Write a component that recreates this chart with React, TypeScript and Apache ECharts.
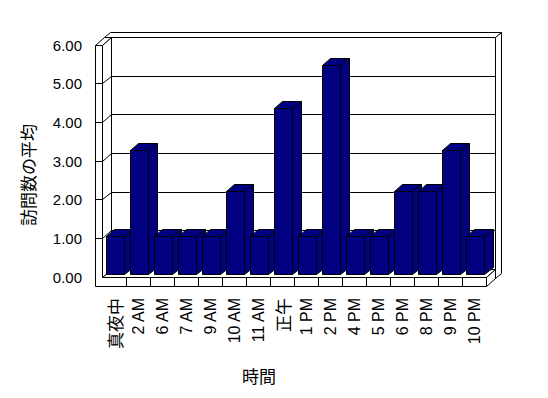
import React, { useEffect, useRef } from "react";
import * as echarts from "echarts";

const categories = ["真夜中", "2 AM", "6 AM", "7 AM", "9 AM", "10 AM", "11 AM", "正午", "1 PM", "2 PM", "4 PM", "5 PM", "6 PM", "8 PM", "9 PM", "10 PM"];
const visits = [1, 3.22, 1, 1, 1, 2.14, 1, 4.29, 1, 5.4, 1, 1, 2.14, 2.14, 3.22, 1];
const yTicks = [0, 1, 2, 3, 4, 5, 6];
const yAxisTitle = "訪問数の平均";
const xAxisTitle = "時間";

const GRID = { left: 102, top: 45, width: 384, height: 232 };
const DEPTH = [9.5, -7.5];
const OUTER = [15.5, -12.5];
const WALL = 7;
const FLOOR = 9;
const BAR_OFF = [1.5, -2.3];
const BAR_DEPTH = [8.5, -7];
const BAR_W = 0.79;
const NAVY = "#000080";
const LATIN = "'Liberation Sans', Arial, sans-serif";
const CJK = "'Noto Sans CJK JP', sans-serif";

const sn = (v: number) => Math.floor(v) + 0.5;
const pts = (arr: number[][]) => arr.map(([x, y]) => [sn(x), sn(y)]);
const face = (arr: number[][], fill: string) => ({
  type: "polygon",
  shape: { points: pts(arr) },
  style: { fill, stroke: "#000", lineWidth: 1 },
});

export default function App() {
  const ref = useRef<HTMLDivElement>(null);
  useEffect(() => {
    document.body.style.margin = "0";
    if (!ref.current) return;
    const chart = echarts.init(ref.current, null, { renderer: "svg" });
    const yMax = yTicks[yTicks.length - 1];
    const [dx, dy] = DEPTH;
    const [ox, oy] = OUTER;

    const renderWalls = (params: any, api: any) => {
      const c0 = api.coord([0, 0]);
      const bw = api.size([1, 0])[0];
      const L = c0[0] - bw / 2;
      const R = L + bw * categories.length;
      const B = c0[1];
      const T = api.coord([0, yMax])[1];
      const Lw = L - WALL;
      const B2 = B + FLOOR;
      const children: any[] = [];
      children.push(face([[Lw + dx, T + dy], [R + dx, T + dy], [R + dx, B2 + dy], [Lw + dx, B2 + dy]], "#fff"));
      children.push(face([[Lw + dx, T + dy], [R + dx, T + dy], [R + ox, T + oy], [Lw + ox, T + oy]], "#fff"));
      children.push(face([[R + dx, T + dy], [R + ox, T + oy], [R + ox, B2 + oy], [R + dx, B2 + dy]], "#fff"));
      children.push(face([[L, B], [R, B], [R + dx, B + dy], [L + dx, B + dy]], "#fff"));
      children.push(face([[R, B], [R + dx, B + dy], [R + dx, B2 + dy], [R, B2]], "#fff"));
      children.push(face([[Lw, T], [L, T], [L + dx, T + dy], [Lw + dx, T + dy]], "#fff"));
      children.push(face([[L, T], [L + dx, T + dy], [L + dx, B + dy], [L, B]], "#fff"));
      children.push(face([[Lw, T], [L, T], [L, B], [R, B], [R, B2], [Lw, B2]], "#fff"));
      yTicks.slice(1, -1).forEach((t) => {
        const y = api.coord([0, t])[1];
        children.push({
          type: "polyline",
          shape: { points: pts([[Lw, y], [L, y], [L + dx, y + dy], [R + dx, y + dy]]) },
          style: { fill: "none", stroke: "#000", lineWidth: 1 },
        });
      });
      for (let i = 1; i < categories.length; i++) {
        const x = sn(L + i * bw);
        children.push({
          type: "line",
          shape: { x1: x, y1: sn(B), x2: x, y2: sn(B2) },
          style: { stroke: "#000", lineWidth: 1 },
        });
      }
      return { type: "group", children };
    };

    const renderBar = (params: any, api: any) => {
      const i = api.value(0);
      const v = api.value(1);
      const top = api.coord([i, v]);
      const base = api.coord([i, 0]);
      const w = api.size([1, 0])[0] * BAR_W;
      const xl = top[0] - w / 2 + BAR_OFF[0];
      const xr = xl + w;
      const yt = top[1] + BAR_OFF[1];
      const yb = base[1] + BAR_OFF[1];
      const [bx, by] = BAR_DEPTH;
      return {
        type: "group",
        children: [
          face([[xr, yt], [xr + bx, yt + by], [xr + bx, yb + by], [xr, yb]], NAVY),
          face([[xl, yt], [xr, yt], [xr + bx, yt + by], [xl + bx, yt + by]], NAVY),
          face([[xl, yt], [xr, yt], [xr, yb], [xl, yb]], NAVY),
        ],
      };
    };

    chart.setOption({
      animation: false,
      backgroundColor: "#fff",
      grid: { ...GRID, containLabel: false },
      xAxis: {
        type: "category",
        data: categories.map((c) =>
          /[^\x00-\x7F]/.test(c)
            ? { value: c, textStyle: { fontSize: 17, fontFamily: CJK, color: "#000" } }
            : c
        ),
        axisLine: { show: false },
        axisTick: { show: false },
        splitLine: { show: false },
        axisLabel: {
          interval: 0,
          rotate: 90,
          margin: 21,
          color: "#000",
          fontSize: 16,
          fontFamily: LATIN,
        },
      },
      yAxis: {
        type: "value",
        min: yTicks[0],
        max: yMax,
        interval: 1,
        axisLine: { show: false },
        axisTick: { show: false },
        splitLine: { show: false },
        axisLabel: {
          margin: 20,
          color: "#000",
          fontSize: 15,
          fontFamily: LATIN,
          formatter: (v: number) => v.toFixed(2),
        },
      },
      graphic: [
        {
          type: "text",
          x: 27,
          y: 175,
          rotation: Math.PI / 2,
          style: { text: yAxisTitle, fill: "#000", font: `17px ${CJK}`, align: "center", verticalAlign: "middle" },
        },
        {
          type: "text",
          x: 259,
          y: 375,
          style: { text: xAxisTitle, fill: "#000", font: `17px ${CJK}`, align: "center", verticalAlign: "middle" },
        },
      ],
      series: [
        {
          type: "custom",
          name: "walls",
          silent: true,
          clip: false,
          z: 1,
          data: [[0, 0]],
          encode: { x: 0, y: 1 },
          renderItem: renderWalls,
        },
        {
          type: "custom",
          name: "訪問数の平均",
          clip: false,
          z: 2,
          data: visits.map((v, i) => [i, v]),
          encode: { x: 0, y: 1 },
          renderItem: renderBar,
        },
      ],
    });
    return () => chart.dispose();
  }, []);
  return <div ref={ref} style={{ width: 548, height: 398 }} />;
}
